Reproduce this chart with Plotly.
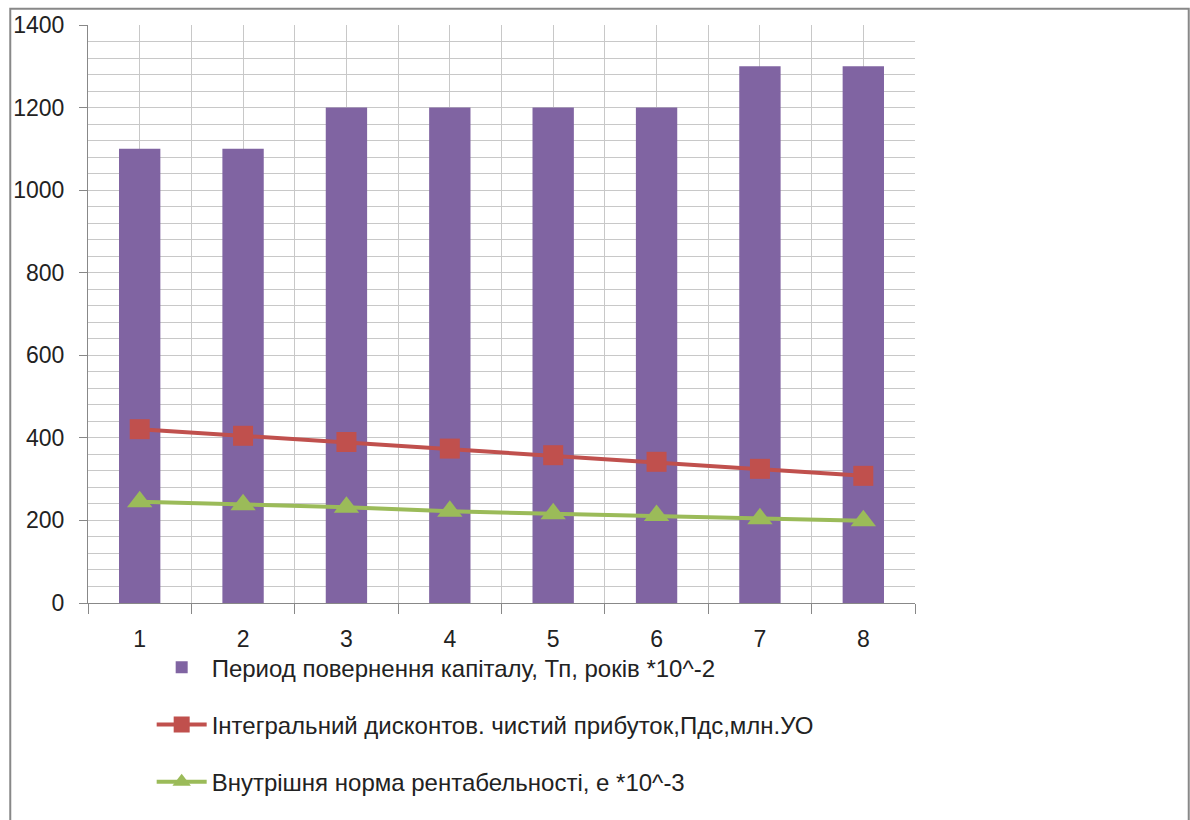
import plotly.graph_objects as go

categories = [1, 2, 3, 4, 5, 6, 7, 8]
payback_period = [1100, 1100, 1200, 1200, 1200, 1200, 1300, 1300]
npv_values = [421, 405, 390, 374, 358, 342, 325, 308]
irr_values = [245, 238, 232, 222, 216, 212, 204, 199]
series_names = [
    "Период повернення капіталу, Тп, років *10^-2",
    "Інтегральний дисконтов. чистий прибуток,Пдс,млн.УО",
    "Внутрішня норма рентабельності, е *10^-3",
]
y_ticks = [0, 200, 400, 600, 800, 1000, 1200, 1400]

FONT = "Liberation Sans, Arial, sans-serif"

fig = go.Figure()
fig.add_trace(go.Bar(
    x=categories, y=payback_period, name=series_names[0],
    marker=dict(color="#8064A2", line=dict(width=0)), width=0.4,
    legendgroup="a",
))
fig.add_trace(go.Scatter(
    x=categories, y=npv_values, name=series_names[1], mode="lines+markers",
    line=dict(color="#C0504D", width=4),
    marker=dict(symbol="square", size=20, color="#C0504D"),
    legendgroup="b",
))
fig.add_trace(go.Scatter(
    x=categories, y=irr_values, name=series_names[2], mode="lines+markers",
    line=dict(color="#9BBB59", width=4),
    marker=dict(symbol="triangle-up", size=22, color="#9BBB59"),
    legendgroup="c",
))

fig.update_layout(
    width=1190, height=820,
    margin=dict(l=88, r=275, t=25, b=217),
    paper_bgcolor="white", plot_bgcolor="white",
    font=dict(family=FONT, size=22, color="#222"),
    showlegend=True,
    legend=dict(
        x=0.077, xanchor="left", y=-0.073, yanchor="top",
        orientation="v", tracegroupgap=23, itemwidth=50,
        font=dict(family=FONT, size=24, color="#222"),
        bgcolor="rgba(0,0,0,0)",
    ),
    xaxis=dict(
        range=[0.5, 8.5], tickvals=categories, ticktext=[str(c) for c in categories],
        tickfont=dict(family=FONT, size=23, color="#222"),
        showgrid=True, gridcolor="#C8C8C8", gridwidth=1,
        ticks="", showline=True, linecolor="#888", linewidth=1,
        ticklabelstandoff=15,
        minor=dict(tick0=0.5, dtick=1, showgrid=True, gridcolor="#C8C8C8",
                   ticks="outside", ticklen=10, tickcolor="#888"),
        zeroline=False, fixedrange=True,
    ),
    yaxis=dict(
        range=[0, 1400], tickvals=y_ticks,
        tickfont=dict(family=FONT, size=23, color="#222"),
        showgrid=True, gridcolor="#C8C8C8", gridwidth=1,
        ticks="outside", ticklen=8, tickcolor="#888",
        showline=True, linecolor="#888", linewidth=1,
        ticklabelstandoff=10,
        minor=dict(dtick=40, showgrid=True, gridcolor="#C8C8C8"),
        zeroline=False, fixedrange=True,
    ),
    shapes=[dict(type="rect", xref="paper", yref="paper",
                 x0=-0.094, x1=1.331, y0=-0.5, y1=1.028,
                 line=dict(color="#888", width=2), fillcolor="rgba(0,0,0,0)",
                 layer="below")],
)

fig.write_html("out.html")
